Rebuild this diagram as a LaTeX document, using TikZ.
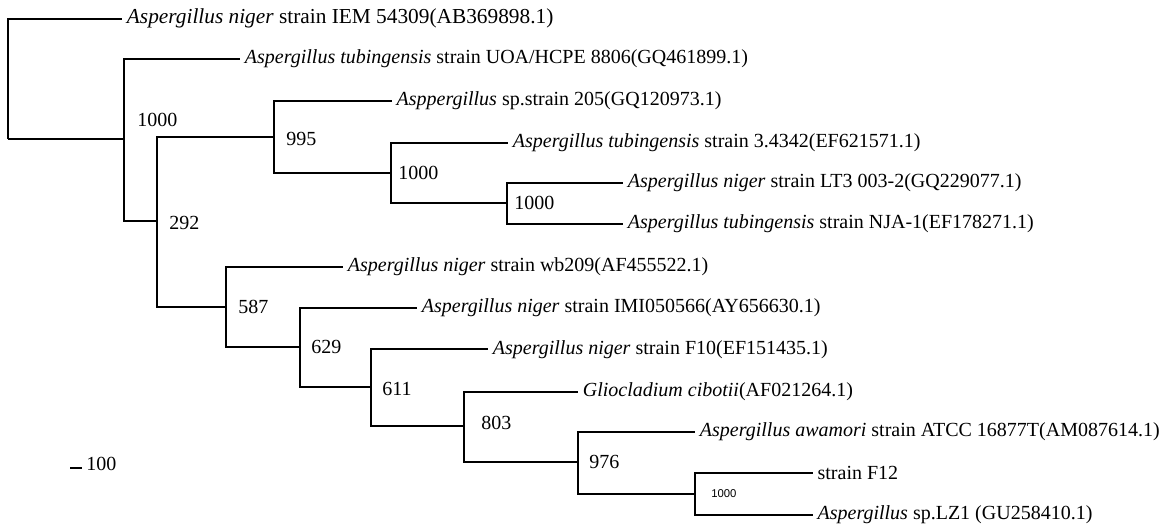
\documentclass[tikz,border=0pt]{standalone}
\usepackage{fontspec}
\setmainfont{Liberation Serif}
\newfontfamily\arialfont{Liberation Sans}
\usepackage{tikz}

\begin{document}
\begin{tikzpicture}[x=0.75pt,y=-0.75pt,
    branch/.style={line width=1.5pt},
    leaf/.style={anchor=west,inner sep=3.5pt,font=\fontsize{15}{18}\selectfont},
    boot/.style={anchor=west,inner sep=0pt,font=\fontsize{15}{18}\selectfont},
    bootsmall/.style={anchor=west,inner sep=0pt,font=\arialfont\fontsize{8.5}{10}\selectfont}]
  \useasboundingbox (0,0) rectangle (1172,525);
  % internal nodes
  \coordinate (R) at (8,139);
  \coordinate (A) at (124,139);
  \coordinate (B) at (157,220.7);
  \coordinate (C) at (274,136.7);
  \coordinate (D) at (390.7,172.7);
  \coordinate (E) at (507.3,203.3);
  \coordinate (F) at (226,306.7);
  \coordinate (G) at (300,347.3);
  \coordinate (H) at (371,386.7);
  \coordinate (I) at (464,425.7);
  \coordinate (J) at (577.7,461.7);
  \coordinate (K) at (695,494);
  % leaves
  \node[leaf,font=\fontsize{16}{19}\selectfont] (l1) at (122,18.7) {\textit{Aspergillus niger} strain IEM 54309(AB369898.1)};
  \node[leaf] (l2) at (240,58.7) {\textit{Aspergillus tubingensis} strain UOA/HCPE 8806(GQ461899.1)};
  \node[leaf] (l3) at (391.7,100.7) {\textit{Asppergillus} sp.strain 205(GQ120973.1)};
  \node[leaf] (l4) at (508,142.7) {\textit{Aspergillus tubingensis} strain 3.4342(EF621571.1)};
  \node[leaf] (l5) at (623,182.7) {\textit{Aspergillus niger} strain LT3 003-2(GQ229077.1)};
  \node[leaf] (l6) at (623,224) {\textit{Aspergillus tubingensis} strain NJA-1(EF178271.1)};
  \node[leaf] (l7) at (343,266.7) {\textit{Aspergillus niger} strain wb209(AF455522.1)};
  \node[leaf] (l8) at (417,307.7) {\textit{Aspergillus niger} strain IMI050566(AY656630.1)};
  \node[leaf] (l9) at (488,349.3) {\textit{Aspergillus niger} strain F10(EF151435.1)};
  \node[leaf] (l10) at (578,391.7) {\textit{Gliocladium cibotii}(AF021264.1)};
  \node[leaf] (l11) at (695,431.7) {\textit{Aspergillus awamori} strain ATCC 16877T(AM087614.1)};
  \node[leaf] (l12) at (812.7,473.3) {strain F12};
  \node[leaf] (l13) at (812.7,515) {\textit{Aspergillus} sp.LZ1 (GU258410.1)};
  % branches
  \draw[branch] (R) |- (l1.west);
  \draw[branch] (R) -- (A);
  \draw[branch] (A) |- (l2.west);
  \draw[branch] (A) |- (B);
  \draw[branch] (B) |- (C);
  \draw[branch] (B) |- (F);
  \draw[branch] (C) |- (l3.west);
  \draw[branch] (C) |- (D);
  \draw[branch] (D) |- (l4.west);
  \draw[branch] (D) |- (E);
  \draw[branch] (E) |- (l5.west);
  \draw[branch] (E) |- (l6.west);
  \draw[branch] (F) |- (l7.west);
  \draw[branch] (F) |- (G);
  \draw[branch] (G) |- (l8.west);
  \draw[branch] (G) |- (H);
  \draw[branch] (H) |- (l9.west);
  \draw[branch] (H) |- (I);
  \draw[branch] (I) |- (l10.west);
  \draw[branch] (I) |- (J);
  \draw[branch] (J) |- (l11.west);
  \draw[branch] (J) |- (K);
  \draw[branch] (K) |- (l12.west);
  \draw[branch] (K) |- (l13.west);
  % bootstrap values
  \node[boot] (bA) at (137,120) {1000};
  \node[boot] (bB) at (169,222.7) {292};
  \node[boot] (bC) at (286,139) {995};
  \node[boot] (bD) at (398,173) {1000};
  \node[boot] (bE) at (514,203.3) {1000};
  \node[boot] (bF) at (238,307.3) {587};
  \node[boot] (bG) at (311,346.7) {629};
  \node[boot] (bH) at (382,389) {611};
  \node[boot] (bI) at (481,422.7) {803};
  \node[boot] (bJ) at (589,461.7) {976};
  \node[bootsmall] (bK) at (711,493.3) {1000};
  % scale bar
  \coordinate (s1) at (70,468.3);
  \coordinate (s2) at (81.7,468.3);
  \draw[branch] (s1) -- (s2);
  \node[boot,anchor=base west] (sbar) at (86,470.3) {100};
\end{tikzpicture}
\end{document}
